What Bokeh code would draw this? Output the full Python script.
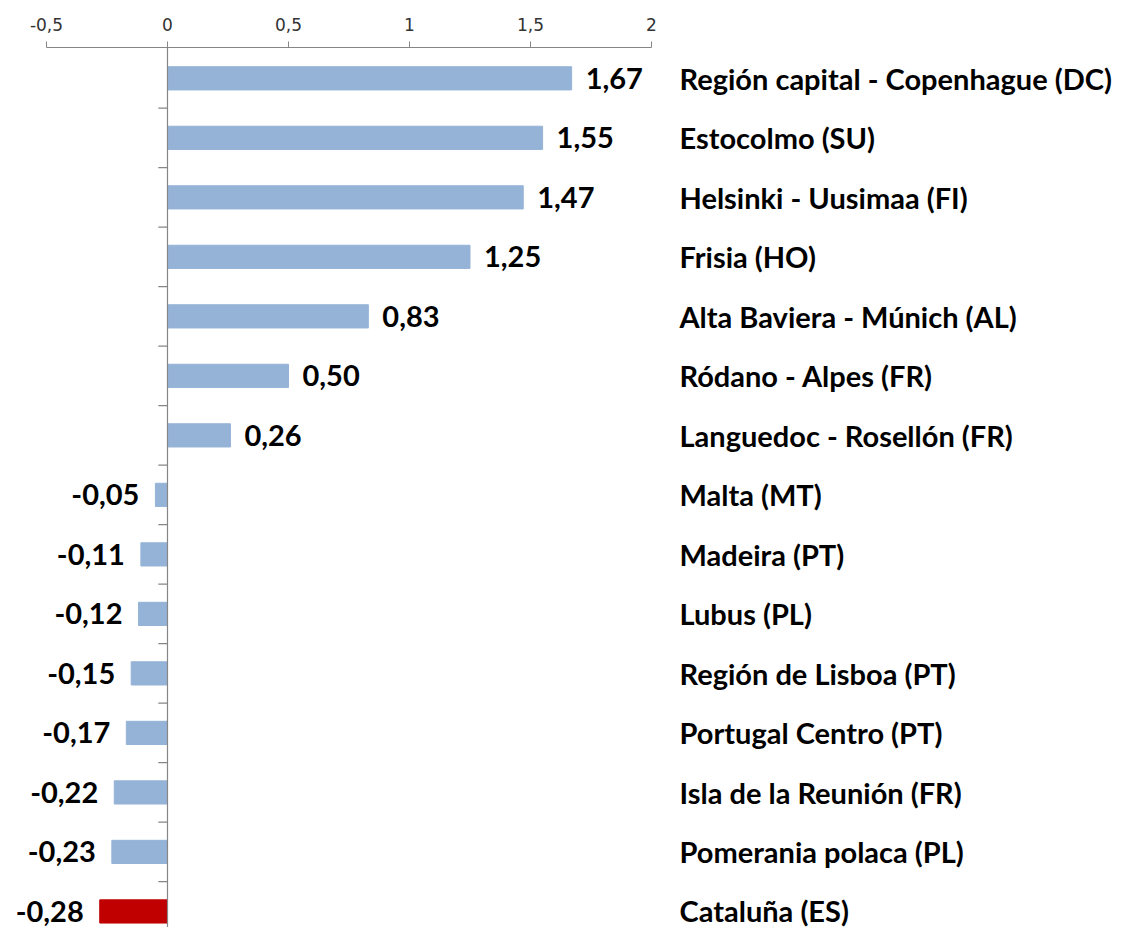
from bokeh.plotting import figure
from bokeh.models import Range1d, Span, FixedTicker, ColumnDataSource
from bokeh.core.properties import value
from bokeh.embed import file_html
from bokeh.resources import INLINE

categories = [
    "Región capital - Copenhague (DC)",
    "Estocolmo (SU)",
    "Helsinki - Uusimaa (FI)",
    "Frisia (HO)",
    "Alta Baviera - Múnich (AL)",
    "Ródano - Alpes (FR)",
    "Languedoc - Rosellón (FR)",
    "Malta (MT)",
    "Madeira (PT)",
    "Lubus (PL)",
    "Región de Lisboa (PT)",
    "Portugal Centro (PT)",
    "Isla de la Reunión (FR)",
    "Pomerania polaca (PL)",
    "Cataluña (ES)",
]
values = [1.67, 1.55, 1.47, 1.25, 0.83, 0.50, 0.26,
          -0.05, -0.11, -0.12, -0.15, -0.17, -0.22, -0.23, -0.28]
highlight = "Cataluña (ES)"
x_ticks = [-0.5, 0, 0.5, 1, 1.5, 2]
x_tick_labels = ["-0,5", "0", "0,5", "1", "1,5", "2"]

BLUE = "#95B3D7"
RED = "#C00000"

idx = list(range(len(categories)))
colors = [RED if c == highlight else BLUE for c in categories]
labels = [f"{v:.2f}".replace(".", ",") for v in values]

p = figure(
    output_backend="svg", toolbar_location=None,
    frame_width=643, frame_height=880,
    x_range=Range1d(-0.657, 2.0),
    y_range=Range1d(14.27, -0.518),
    x_axis_location="above", y_axis_location="right",
    min_border_left=8, min_border_top=47, min_border_bottom=0, min_border_right=0,
)
p.outline_line_color = None
p.xgrid.visible = False
p.ygrid.visible = False
p.background_fill_color = "white"
p.border_fill_color = "white"

# top axis
xa = p.xaxis[0]
xa.ticker = FixedTicker(ticks=x_ticks)
xa.major_label_overrides = {t: l for t, l in zip(x_ticks, x_tick_labels)}
xa.bounds = (-0.5, 2.0)
xa.axis_line_color = "#868686"
xa.major_tick_line_color = "#868686"
xa.major_tick_out = 6
xa.major_tick_in = 0
xa.minor_tick_line_color = None
xa.major_label_text_font = "DejaVu Sans"
xa.major_label_text_font_size = "17px"
xa.major_label_text_color = "#333333"
xa.major_label_standoff = 11

# right axis with category names
ya = p.yaxis[0]
ya.ticker = FixedTicker(ticks=idx)
ya.major_label_overrides = {i: c for i, c in zip(idx, categories)}
ya.axis_line_color = None
ya.major_tick_line_color = None
ya.minor_tick_line_color = None
ya.major_label_text_font = "Lato"
ya.major_label_text_font_style = "bold"
ya.major_label_text_font_size = "29px"
ya.major_label_text_color = "#000000"
ya.major_label_standoff = 22

# bars
src = ColumnDataSource(dict(y=idx, v=values, c=colors))
p.hbar(y="y", left=0, right="v", height=0.39, fill_color="c", line_color="c",
       line_width=1, source=src)

# vertical axis line at 0 with category boundary ticks
p.add_layout(Span(location=0, dimension="height", line_color="#868686", line_width=1.2))
bounds = [i + 0.5 for i in idx[:-1]]
p.segment(x0=[-0.038] * len(bounds), x1=[0] * len(bounds), y0=bounds, y1=bounds,
          line_color="#868686", line_width=1.2)

# value labels
pos = [(i, v, l) for i, v, l in zip(idx, values, labels) if v >= 0]
neg = [(i, v, l) for i, v, l in zip(idx, values, labels) if v < 0]
p.text(x=[v for _, v, _ in pos], y=[i for i, _, _ in pos], text=[l for _, _, l in pos],
       text_align="left", text_baseline="middle", x_offset=14,
       text_font=value("Lato"), text_font_style="bold", text_font_size="29px",
       text_color="#000000")
p.text(x=[v for _, v, _ in neg], y=[i for i, _, _ in neg], text=[l for _, _, l in neg],
       text_align="right", text_baseline="middle", x_offset=-16,
       text_font=value("Lato"), text_font_style="bold", text_font_size="29px",
       text_color="#000000")

open("out.html", "w").write(file_html(p, INLINE))
